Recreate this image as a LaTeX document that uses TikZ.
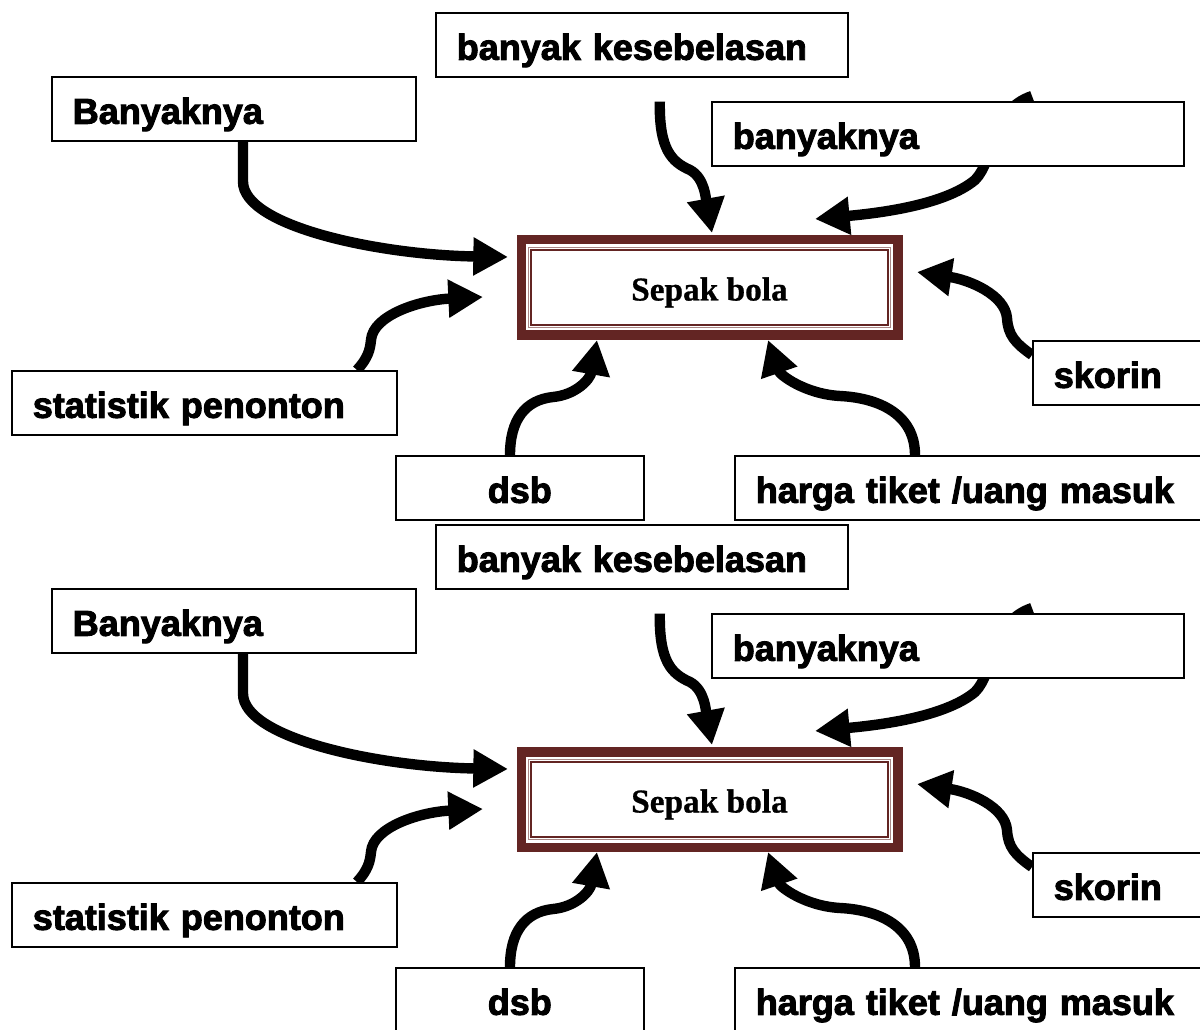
\documentclass[tikz,border=0pt]{standalone}
\usepackage{fontspec}
\usetikzlibrary{arrows.meta,calc}
\newfontfamily\labelfont{Liberation Sans Bold}[FakeBold=2.6]
\newfontfamily\hubfont{Liberation Serif Bold}[FakeBold=0.8]
\definecolor{framebrown}{HTML}{632523}
\pgfdeclarelayer{flows}
\pgfsetlayers{flows,main}
\tikzset{
  x=0.75pt, y=-0.75pt,
  labelbox/.style={draw=black, line width=1.2pt, fill=white, anchor=north west,
    minimum height=48pt, inner xsep=15.75pt, inner ysep=0pt,
    text height=22.5pt, text depth=0pt,
    font=\labelfont\fontsize{27}{30}\selectfont},
  hubbox/.style={draw=framebrown, line width=7.1pt, fill=white, outer sep=0pt,
    minimum width=282.4pt, minimum height=71.6pt, inner sep=0pt,
    text height=19.5pt, text depth=0pt,
    font=\hubfont\fontsize{25}{28}\selectfont},
  flow/.style={line width=7.8pt, -{Triangle[length=26pt,width=27pt]}},
}
\begin{document}
\begin{tikzpicture}
\useasboundingbox (0,0) rectangle (1200,1030);
\clip (0,0) rectangle (1200,1030);
\foreach \dy in {0,512}{
\begin{scope}[shift={(0,\dy)}]
  % central topic with its double brown frame
  \node[hubbox] (hub) at (709.5,287.5) {Sepak bola};
  \draw[framebrown!55, line width=0.75pt]
    ($(hub.north west)+(7.5,7.5)$) rectangle ($(hub.south east)+(-7.5,-7.5)$);
  \draw[framebrown, line width=1.3pt]
    ($(hub.north west)+(10,10)$) rectangle ($(hub.south east)+(-10,-10)$);

  % surrounding labels
  \node[labelbox, text width=277.5pt, align=left] (kes)   at (435,12)  {banyak kesebelasan};
  \node[labelbox, text width=241.5pt, align=left] (big)   at (51,76)   {Banyaknya};
  \node[labelbox, text width=322.5pt, align=left] (many)  at (711,101) {banyaknya};
  \node[labelbox, text width=105.75pt, align=left] (skor) at (1032,340) {skorin};
  \node[labelbox, text width=257.25pt, align=left] (stat) at (11,370)  {statistik penonton};
  \node[labelbox, text width=154.5pt, align=center] (dsb) at (395,455) {dsb};
  \node[labelbox, text width=329.25pt, align=left] (harga) at (734,455) {harga tiket /uang masuk};

  % arrow tips around the central box
  \coordinate (t1) at (508,257);
  \coordinate (t2) at (712,233);
  \coordinate (t3) at (815,219);
  \coordinate (t4) at (483,297);
  \coordinate (t5) at (597,340);
  \coordinate (t6) at (768,340);
  \coordinate (t7) at (917,272);

  \begin{pgfonlayer}{flows}
    \draw[flow] ($(big.south west)+(192,0)$) -- ++(0,40)
      .. controls +(0,45) and (380,255) .. (t1);
    \draw[flow] ($(kes.south)+(18,24)$)
      .. controls (659,150) and (672,162) .. (690,170)
      .. controls (705,178) and (706,200) .. (t2);
    \draw[flow] ($(many.north west)+(321,-5)$)
      .. controls (990,110) and (995,160) .. (975,180)
      .. controls (945,205) and (880,213) .. (t3);
    \draw[flow] ($(stat.north west)+(346,0)$)
      .. controls (368,358) and (370,350) .. (371,340)
      .. controls (373,315) and (420,300) .. (t4);
    \draw[flow] ($(dsb.north west)+(115,0)$)
      .. controls (510,420) and (525,400) .. (553,397)
      .. controls (575,395) and (590,380) .. (t5);
    \draw[flow] ($(harga.north west)+(181,0)$)
      .. controls (915,415) and (880,398) .. (840,396)
      .. controls (805,394) and (780,375) .. (t6);
    \draw[flow] ($(skor.north west)+(0,15)$)
      .. controls (1015,343) and (1008,335) .. (1007,318)
      .. controls (1005,295) and (970,280) .. (t7);
  \end{pgfonlayer}
\end{scope}
}
\end{tikzpicture}
\end{document}
